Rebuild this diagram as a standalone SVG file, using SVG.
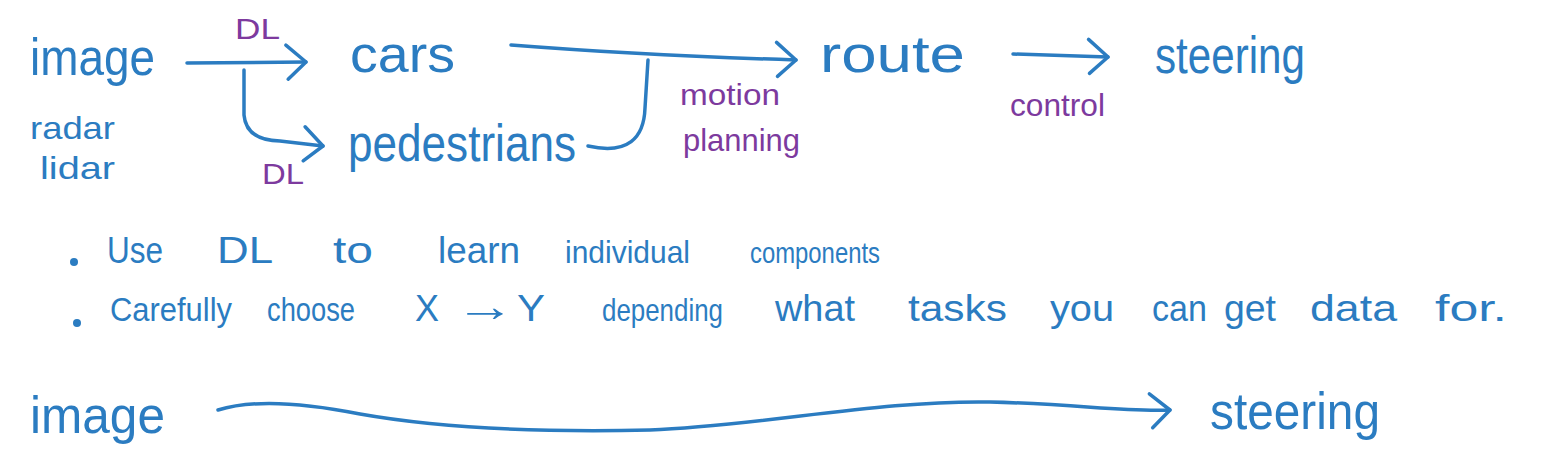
<svg xmlns="http://www.w3.org/2000/svg" width="1542" height="466" viewBox="0 0 1542 466">
<style>
.b{fill:#2b7cc1;font-family:"Liberation Sans","DejaVu Sans",sans-serif}
.p{fill:#7d3a9e;font-family:"Liberation Sans","DejaVu Sans",sans-serif}
.w{font-size:52px}
.s{font-size:32px}
.bul{font-size:36px}
.c{fill:none;stroke:#2b7cc1;stroke-width:3.5;stroke-linecap:round;stroke-linejoin:round}
</style>
<defs>
<marker id="chev" markerUnits="userSpaceOnUse" viewBox="-4 -22 30 44" refX="22" refY="0" markerWidth="30" markerHeight="44" orient="auto">
<path d="M2,-17 L22,0 L4,17" fill="none" stroke="#2b7cc1" stroke-width="3.5" stroke-linecap="round" stroke-linejoin="round"/>
</marker>
</defs>
<rect width="1542" height="466" fill="#ffffff"/>
<g id="connectors">
<path class="c" d="M187,63 L306,62" marker-end="url(#chev)"/>
<path class="c" d="M244,70 L244,115 Q246,140 280,141 L323,146" marker-end="url(#chev)"/>
<path class="c" d="M511,45 C600,52 700,57 796,60" marker-end="url(#chev)"/>
<path class="c" d="M588,146 C628,155 644,138 645,108 L648,60"/>
<path class="c" d="M1013,54 L1108,57" marker-end="url(#chev)"/>
<path class="c" d="M218,410 C250,400 300,402 360,414 C450,430 560,432 650,430 C760,426 880,400 990,402 C1080,404 1120,412 1170,410" marker-end="url(#chev)"/>
</g>
<g id="node-image"><text class="b w" x="30" y="75" textLength="125" lengthAdjust="spacingAndGlyphs">image</text></g>
<g id="node-sensors">
<text class="b s" x="30" y="139" textLength="85" lengthAdjust="spacingAndGlyphs">radar</text>
<text class="b s" x="40" y="179" textLength="75" lengthAdjust="spacingAndGlyphs">lidar</text>
</g>
<g id="label-dl-top"><text class="p" font-size="30" x="235" y="39" textLength="45" lengthAdjust="spacingAndGlyphs">DL</text></g>
<g id="label-dl-bottom"><text class="p" font-size="30" x="262" y="184" textLength="42" lengthAdjust="spacingAndGlyphs">DL</text></g>
<g id="node-cars"><text class="b w" x="350" y="72" textLength="105" lengthAdjust="spacingAndGlyphs">cars</text></g>
<g id="node-pedestrians"><text class="b w" x="348" y="161" textLength="228" lengthAdjust="spacingAndGlyphs">pedestrians</text></g>
<g id="label-motion-planning">
<text class="p" font-size="30" x="680" y="105" textLength="100" lengthAdjust="spacingAndGlyphs">motion</text>
<text class="p" font-size="32" x="683" y="151" textLength="117" lengthAdjust="spacingAndGlyphs">planning</text>
</g>
<g id="node-route"><text class="b w" x="820" y="72" textLength="145" lengthAdjust="spacingAndGlyphs">route</text></g>
<g id="label-control"><text class="p s" x="1010" y="116" textLength="95" lengthAdjust="spacingAndGlyphs">control</text></g>
<g id="node-steering"><text class="b w" x="1155" y="73" textLength="150" lengthAdjust="spacingAndGlyphs">steering</text></g>
<g id="bullets">
<circle cx="74" cy="262" r="4" fill="#2b7cc1"/>
<text class="b bul" y="263"><tspan x="107" textLength="56" lengthAdjust="spacingAndGlyphs">Use</tspan><tspan x="217" textLength="56" lengthAdjust="spacingAndGlyphs">DL</tspan><tspan x="333" textLength="40" lengthAdjust="spacingAndGlyphs">to</tspan><tspan x="438" textLength="82" lengthAdjust="spacingAndGlyphs">learn</tspan><tspan x="565" font-size="32" textLength="125" lengthAdjust="spacingAndGlyphs">individual</tspan><tspan x="750" font-size="29" textLength="130" lengthAdjust="spacingAndGlyphs">components</tspan></text>
<circle cx="77" cy="323" r="4" fill="#2b7cc1"/>
<text class="b bul" y="321"><tspan x="110" font-size="34" textLength="122" lengthAdjust="spacingAndGlyphs">Carefully</tspan><tspan x="267" font-size="33" textLength="88" lengthAdjust="spacingAndGlyphs">choose</tspan><tspan x="415" textLength="24" lengthAdjust="spacingAndGlyphs">X</tspan><tspan x="455" font-size="44" textLength="60" lengthAdjust="spacingAndGlyphs">→</tspan><tspan x="517" textLength="28" lengthAdjust="spacingAndGlyphs">Y</tspan><tspan x="602" font-size="32" textLength="121" lengthAdjust="spacingAndGlyphs">depending</tspan><tspan x="775" textLength="80" lengthAdjust="spacingAndGlyphs">what</tspan><tspan x="908" textLength="99" lengthAdjust="spacingAndGlyphs">tasks</tspan><tspan x="1050" textLength="64" lengthAdjust="spacingAndGlyphs">you</tspan><tspan x="1152" textLength="55" lengthAdjust="spacingAndGlyphs">can</tspan><tspan x="1224" textLength="52" lengthAdjust="spacingAndGlyphs">get</tspan><tspan x="1310" textLength="87" lengthAdjust="spacingAndGlyphs">data</tspan><tspan x="1435" textLength="72" lengthAdjust="spacingAndGlyphs">for.</tspan></text>
</g>
<g id="node-image-bottom"><text class="b w" x="30" y="433" textLength="135" lengthAdjust="spacingAndGlyphs">image</text></g>
<g id="node-steering-bottom"><text class="b w" x="1210" y="429" textLength="170" lengthAdjust="spacingAndGlyphs">steering</text></g>
</svg>
